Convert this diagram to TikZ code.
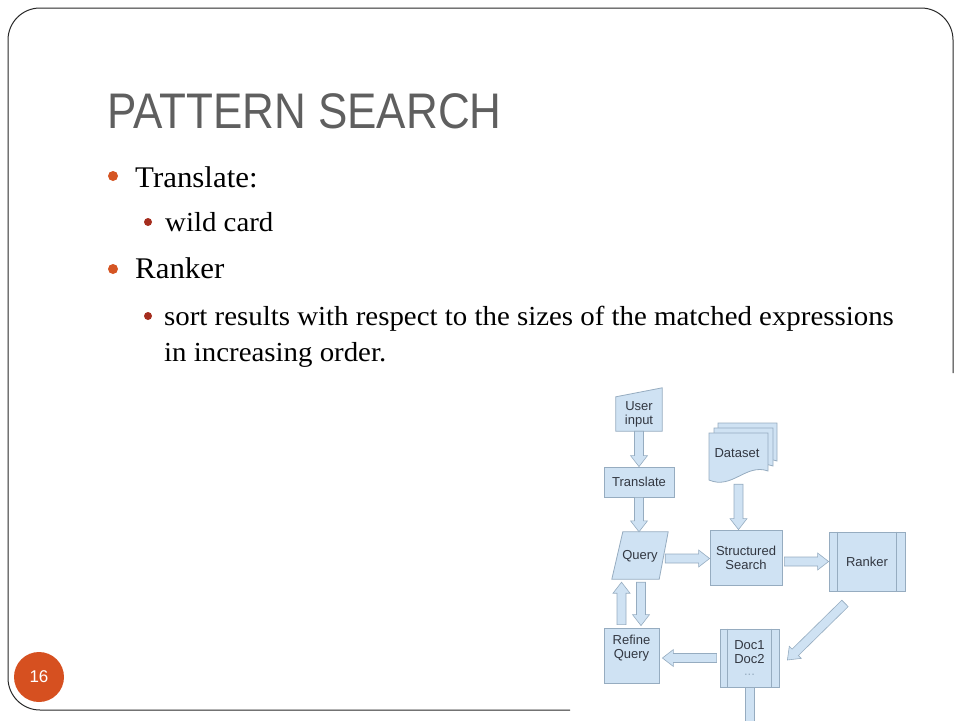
\documentclass[tikz,border=0pt]{standalone}
\usepackage{fontspec}
\setmainfont{Liberation Serif}
\newfontfamily\titlefont[FakeStretch=0.88]{Liberation Sans}
\newfontfamily\bodyone[FakeStretch=1.03]{Liberation Serif}
\newfontfamily\bodytwo[FakeStretch=1.05]{Liberation Serif}
\newfontfamily\chartfont{Liberation Sans}
\usetikzlibrary{calc,backgrounds}
\definecolor{titlegrey}{RGB}{95,95,95}
\definecolor{bulletorange}{RGB}{213,85,35}
\definecolor{bulletred}{RGB}{165,45,30}
\definecolor{pageorange}{RGB}{214,80,32}
\definecolor{framegrey}{RGB}{40,40,40}
\definecolor{boxfill}{RGB}{207,226,243}
\definecolor{boxline}{RGB}{150,172,192}
\definecolor{boxtext}{RGB}{50,55,65}
\tikzset{
  lvlone/.style={anchor=base west, inner sep=0pt, font=\bodyone\fontsize{30}{36}\selectfont},
  lvltwo/.style={anchor=base west, inner sep=0pt, font=\bodytwo\fontsize{27.5}{32}\selectfont},
  box/.style={draw=boxline, fill=boxfill, text=boxtext, align=center, inner sep=0pt,
    line width=0.8pt, font=\chartfont\fontsize{13}{14}\selectfont},
  boxtxt/.style={text=boxtext, align=center, inner sep=0pt, font=\chartfont\fontsize{13}{14}\selectfont},
  shapefill/.style={draw=boxline, fill=boxfill, line width=0.8pt},
  % block arrow between two points
  fatarrow/.style={draw=boxline, fill=boxfill, line width=0.6pt,
    to path={
      ($(\tikztostart)!4.5pt!90:(\tikztotarget)$)
      -- ($(\tikztotarget)!11pt!(\tikztostart)!4.5pt!90:(\tikztotarget)$)
      -- ($(\tikztotarget)!11pt!(\tikztostart)!8.5pt!90:(\tikztotarget)$)
      -- (\tikztotarget)
      -- ($(\tikztotarget)!11pt!(\tikztostart)!8.5pt!-90:(\tikztotarget)$)
      -- ($(\tikztotarget)!11pt!(\tikztostart)!4.5pt!-90:(\tikztotarget)$)
      -- ($(\tikztostart)!4.5pt!-90:(\tikztotarget)$)
      -- cycle}},
  fatshaft/.style={draw=boxline, fill=boxfill, line width=0.6pt,
    to path={
      ($(\tikztostart)!4.5pt!90:(\tikztotarget)$)
      -- ($(\tikztotarget)!4.5pt!-90:(\tikztostart)$)
      -- ($(\tikztotarget)!4.5pt!90:(\tikztostart)$)
      -- ($(\tikztostart)!4.5pt!-90:(\tikztotarget)$)
      -- cycle}}
}
\begin{document}
\begin{tikzpicture}[x=1pt,y=-1pt]
  \useasboundingbox (0,0) rectangle (960,720);
  % slide frame
  \draw[framegrey, line width=1pt, rounded corners=32pt] (953,373) -- (953,8) -- (8,8) -- (8,710) -- (570,710);
  % title
  \node[anchor=base west, inner sep=0pt, text=titlegrey, font=\titlefont\fontsize{50}{50}\selectfont] (title) at (107,128) {PATTERN SEARCH};
  % bullets
  \foreach \by in {176,269}
    \fill[bulletorange] (113,\by) circle (5pt);
  \foreach \by in {222,316}
    \fill[bulletred] (148,\by) circle (4pt);
  \node[lvlone] (itemtranslate) at (135,187) {Translate:};
  \node[lvltwo] (itemwild) at (165,231) {wild card};
  \node[lvlone] (itemranker) at (135,278) {Ranker};
  \node[lvltwo] (itemsort) at (164,325) {sort results with respect to the sizes of the matched expressions};
  \node[lvltwo] (itemorder) at (164,361) {in increasing order.};
  % page number
  \node[circle, fill=pageorange, minimum size=50pt, inner sep=0pt, text=white,
    font=\chartfont\fontsize{17}{17}\selectfont] (pagenum) at (39,677) {16};

  % flow chart
  \node[minimum width=46pt, minimum height=43pt, inner sep=0pt] (userin) at (639,409.5) {};
  \node[box, minimum width=70pt, minimum height=30pt] (transl) at (639,482) {Translate};
  \node[minimum width=56pt, minimum height=47pt, inner sep=0pt] (query) at (640,555.5) {};
  \node[minimum width=59pt, minimum height=47pt, inner sep=0pt] (dataset) at (738.5,456.5) {};
  \node[box, minimum width=72pt, minimum height=55pt] (search) at (746,557.5) {Structured\\Search};
  \node[box, minimum width=76pt, minimum height=59pt] (rank) at (867,561.5) {Ranker};
  \node[box, minimum width=59pt, minimum height=58pt] (docs) at (749.5,658) {Doc1\\Doc2\\[-2pt]\textcolor{boxline}{...}};
  \node[box, minimum width=55pt, minimum height=55pt, text depth=18pt] (refine) at (631.5,655.5) {Refine\\Query};
  \coordinate (docsout) at (749.5,730);

  \begin{scope}[on background layer]
    % manual input
    \draw[shapefill] (userin.south west) -- (userin.south east) -- (userin.north east)
      -- ([yshift=-9pt]userin.north west) -- cycle;
    % parallelogram
    \draw[shapefill] ([xshift=11pt]query.north west) -- (query.north east)
      -- ([xshift=-9pt]query.south east) -- (query.south west) -- cycle;
    % stacked documents
    \foreach \dx/\dy in {9/-10,5/-5,0/0}
      \draw[shapefill, shift={(\dx,\dy)}] (709,433) -- (768,433) -- (768,471)
        .. controls (746,463) and (732,490) .. (709,480) -- cycle;
  \end{scope}
  \node[boxtxt] (userintext) at (639,414) {User\\input};
  \node[boxtxt] (querytext) at (640,556) {Query};
  \node[boxtxt] (datasettext) at (737,453) {Dataset};
  % side bars
  \draw[boxline, line width=0.8pt] ([xshift=9pt]rank.north west) -- ([xshift=9pt]rank.south west);
  \draw[boxline, line width=0.8pt] ([xshift=-9pt]rank.north east) -- ([xshift=-9pt]rank.south east);
  \draw[boxline, line width=0.8pt] ([xshift=8pt]docs.north west) -- ([xshift=8pt]docs.south west);
  \draw[boxline, line width=0.8pt] ([xshift=-8pt]docs.north east) -- ([xshift=-8pt]docs.south east);

  % arrows
  \draw[fatarrow] (userin.south) to (transl.north);
  \draw[fatarrow] (transl.south) to (transl.south |- query.north);
  \draw[fatarrow] ([xshift=-3pt,yshift=-3pt]query.east) to ([yshift=-3pt]query.east -| search.west);
  \draw[fatarrow] ([yshift=-4pt]dataset.south) to (dataset.south |- search.north);
  \draw[fatarrow] ([xshift=2pt]search.east |- rank.west) to (rank.west);
  \draw[fatarrow] ([shift={(-22pt,-12pt)}]rank.south) to ([xshift=8pt,yshift=-2pt]docs.east);
  \draw[fatarrow] ([xshift=-3pt]docs.west) to ([xshift=3pt]refine.east |- docs.west);
  \draw[fatarrow] ([xshift=-10pt,yshift=3pt]refine.north) to ([xshift=-10pt,yshift=-3pt]refine.north |- query.south);
  \draw[fatarrow] ([xshift=9.5pt,yshift=-3pt]refine.north |- query.south) to ([xshift=9.5pt,yshift=2pt]refine.north);
  \draw[fatshaft] (docs.south) to (docsout);
\end{tikzpicture}
\end{document}
